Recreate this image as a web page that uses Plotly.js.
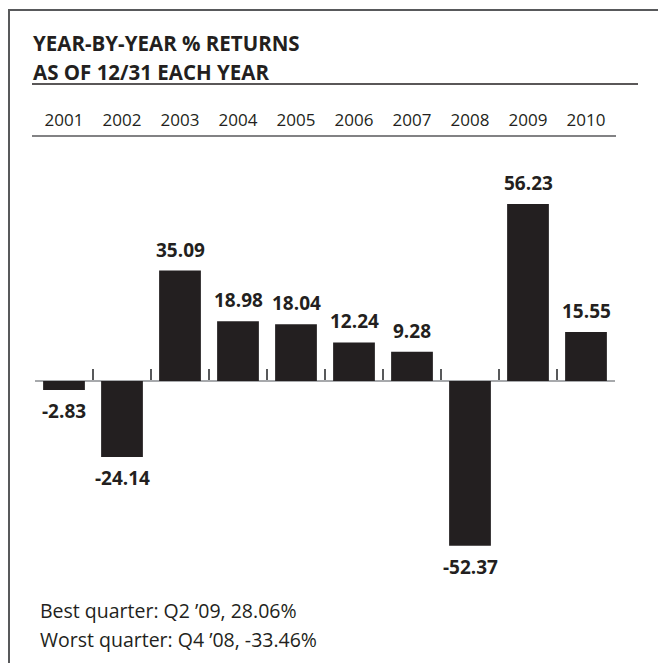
<!DOCTYPE html>
<html>
<head>
<meta charset="utf-8">
<script src="https://cdn.plot.ly/plotly-3.0.1.min.js"></script>
<style>
html,body{margin:0;padding:0;background:#fff;overflow:hidden;}
#wrap{position:relative;width:658px;height:663px;overflow:hidden;}
#chart{width:658px;height:663px;}
#frame{position:absolute;left:8px;top:9px;width:700px;height:700px;border-left:2px solid #58595b;border-top:2px solid #58595b;pointer-events:none;}
</style>
</head>
<body>
<div id="wrap"><div id="chart"></div><div id="frame"></div></div>
<script>
const years = [2001, 2002, 2003, 2004, 2005, 2006, 2007, 2008, 2009, 2010];
const returns = [-2.83, -24.14, 35.09, 18.98, 18.04, 12.24, 9.28, -52.37, 56.23, 15.55];
const titleLines = ['YEAR-BY-YEAR % RETURNS', 'AS OF 12/31 EACH YEAR'];
const notes = ['Best quarter: Q2 \u201909, 28.06%', 'Worst quarter: Q4 \u201908, -33.46%'];

const W = 658, H = 663;
const M = {l: 35, r: 43, t: 136, b: 73};
const pw = W - M.l - M.r, ph = H - M.t - M.b;
const px = x => (x - M.l) / pw;
const py = y => (H - M.b - y) / ph;

const yMin = -66.39, yMax = 77.83;
const zeroPos = -yMin / (yMax - yMin);
const ink = '#231f20';
const FONT = 'Open Sans, sans-serif';

const bars = {
  type: 'bar', x: years, y: returns, width: 0.72,
  marker: {color: ink}, hoverinfo: 'skip', showlegend: false
};
const yearAxisCarrier = {
  type: 'scatter', mode: 'none', x: years, y: returns, xaxis: 'x2', yaxis: 'y',
  hoverinfo: 'skip', showlegend: false
};

const annotations = returns.map((v, i) => ({
  x: years[i], y: v, xref: 'x', yref: 'y', showarrow: false,
  text: v.toFixed(2), yanchor: v >= 0 ? 'bottom' : 'top', yshift: v >= 0 ? 6 : -6,
  font: {family: FONT, size: 19, color: ink, weight: 700}
}));
titleLines.forEach((t, i) => annotations.push({
  xref: 'paper', yref: 'paper', x: px(31), y: py(i === 0 ? 43 : 72),
  xanchor: 'left', yanchor: 'middle', showarrow: false, text: t,
  font: {family: FONT, size: 20.5, color: ink, weight: 700}
}));
notes.forEach((t, i) => annotations.push({
  xref: 'paper', yref: 'paper', x: px(38), y: py(i === 0 ? 610 : 639),
  xanchor: 'left', yanchor: 'middle', showarrow: false, text: t,
  font: {family: FONT, size: 19.5, color: ink}
}));

const line = (x0, y0, x1, y1, color, width) => ({
  type: 'line', xref: 'paper', yref: 'paper', x0: px(x0), y0: py(y0), x1: px(x1), y1: py(y1),
  line: {color: color, width: width}
});
const shapes = [
  line(32, 84, 638, 84, '#231f20', 1.5),
  line(32, 136, 616, 136, '#58595b', 1.5)
];

const layout = {
  width: W, height: H, margin: M,
  paper_bgcolor: '#fff', plot_bgcolor: '#fff',
  font: {family: FONT, color: ink},
  showlegend: false,
  xaxis: {
    type: 'linear', range: [years[0] - 0.5, years[years.length - 1] + 0.5],
    anchor: 'free', position: zeroPos, side: 'bottom',
    showline: true, linecolor: '#a7a9ac', linewidth: 2, layer: 'below traces',
    tickmode: 'linear', tick0: years[0] - 0.5, dtick: 1,
    ticks: 'inside', ticklen: 11, tickwidth: 1.5, tickcolor: '#58595b',
    showticklabels: false, showgrid: false, zeroline: false, fixedrange: true
  },
  xaxis2: {
    type: 'linear', overlaying: 'x', side: 'top', anchor: 'y',
    range: [years[0] - 0.5, years[years.length - 1] + 0.5],
    tickmode: 'array', tickvals: years, ticktext: years.map(String),
    ticks: '', ticklabelstandoff: 6, showline: false, showgrid: false, zeroline: false,
    tickfont: {family: FONT, size: 17, color: ink}, fixedrange: true
  },
  yaxis: {
    range: [yMin, yMax], visible: false, showline: false, showgrid: false, zeroline: false, fixedrange: true
  },
  shapes: shapes,
  annotations: annotations
};

Plotly.newPlot('chart', [bars, yearAxisCarrier], layout, {displayModeBar: false, staticPlot: true});
</script>
</body>
</html>
